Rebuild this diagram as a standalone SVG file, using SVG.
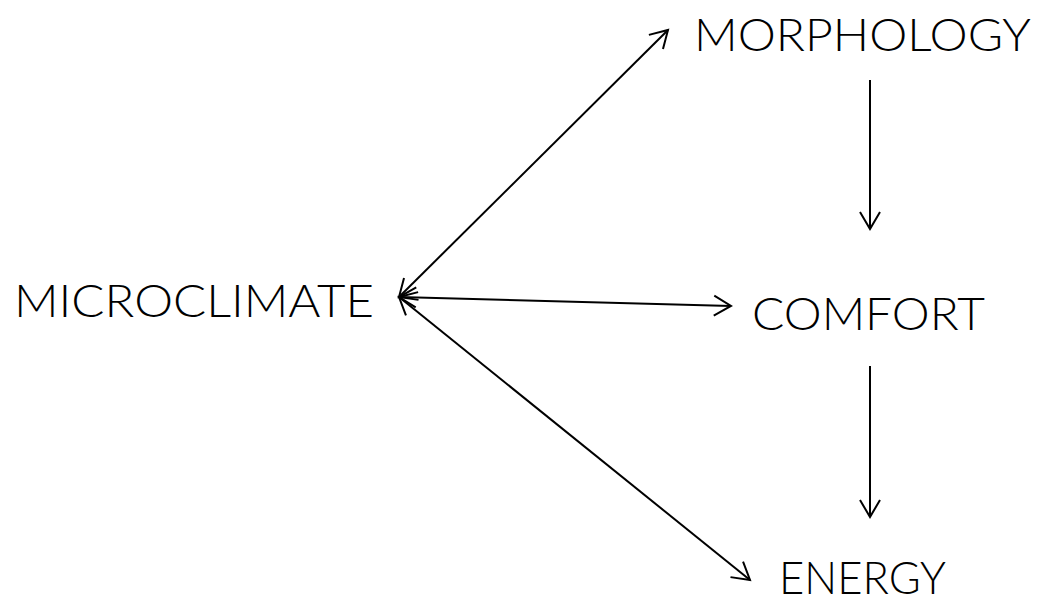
<svg xmlns="http://www.w3.org/2000/svg" width="1045" height="606" viewBox="0 0 1045 606">
  <defs>
    <style>
      .lbl { font-family: "Lato", "Open Sans", "DejaVu Sans", sans-serif; font-size: 46px; font-weight: 300; fill: #000; }
      .edge { stroke: #000; stroke-width: 2; fill: none; }
    </style>
    <marker id="head" markerUnits="userSpaceOnUse" markerWidth="30" markerHeight="30" viewBox="-20 -15 30 30" refX="0" refY="0" orient="auto-start-reverse">
      <path d="M-17,-10 L0,0 L-17,10" fill="none" stroke="#000" stroke-width="2"/>
    </marker>
  </defs>
  <rect width="1045" height="606" fill="#fff"/>
  <g id="connectors">
    <line class="edge" x1="399" y1="297" x2="668" y2="30" marker-start="url(#head)" marker-end="url(#head)"/>
    <line class="edge" x1="399" y1="297" x2="731" y2="306" marker-start="url(#head)" marker-end="url(#head)"/>
    <line class="edge" x1="399" y1="297" x2="750" y2="580" marker-start="url(#head)" marker-end="url(#head)"/>
    <line class="edge" x1="870" y1="80" x2="870" y2="229" marker-end="url(#head)"/>
    <line class="edge" x1="870" y1="366" x2="870" y2="517" marker-end="url(#head)"/>
  </g>
  <g id="node-microclimate">
    <text class="lbl" x="14" y="317" textLength="360" lengthAdjust="spacingAndGlyphs">MICROCLIMATE</text>
  </g>
  <g id="node-morphology">
    <text class="lbl" x="694" y="51" textLength="337" lengthAdjust="spacingAndGlyphs">MORPHOLOGY</text>
  </g>
  <g id="node-comfort">
    <text class="lbl" x="752" y="330" textLength="233" lengthAdjust="spacingAndGlyphs">COMFORT</text>
  </g>
  <g id="node-energy">
    <text class="lbl" x="779" y="594" textLength="167" lengthAdjust="spacingAndGlyphs">ENERGY</text>
  </g>
</svg>
